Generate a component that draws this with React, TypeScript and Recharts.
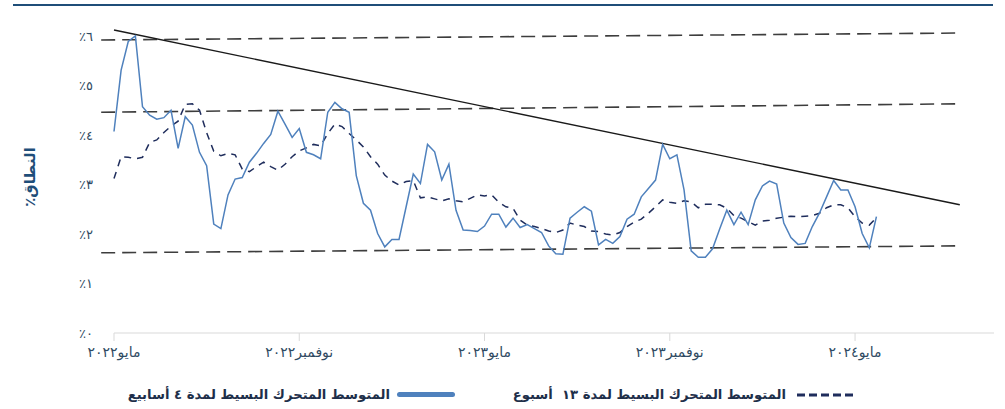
import React from 'react';
import { LineChart, Line, XAxis, YAxis, ReferenceLine } from 'recharts';

// 4-week simple moving average (weekly, % range)
const sma4 = [
  4.07, 5.31, 5.89, 6.0, 4.57, 4.4, 4.32, 4.35, 4.5, 3.73,
  4.37, 4.2, 3.65, 3.38, 2.2, 2.11, 2.79, 3.11, 3.14, 3.45,
  3.63, 3.83, 4.01, 4.48, 4.22, 3.95, 4.13, 3.65, 3.6, 3.52,
  4.46, 4.66, 4.53, 4.46, 3.18, 2.62, 2.48, 2.01, 1.74, 1.89,
  1.89, 2.55, 3.21, 3.02, 3.81, 3.66, 3.09, 3.41, 2.48, 2.08,
  2.07, 2.05, 2.16, 2.4, 2.4, 2.14, 2.32, 2.13, 2.19, 2.11,
  2.03, 1.76, 1.6, 1.59, 2.32, 2.44, 2.55, 2.46, 1.78, 1.89,
  1.81, 1.95, 2.3, 2.4, 2.75, 2.92, 3.09, 3.81, 3.52, 3.6,
  2.89, 1.66, 1.53, 1.53, 1.7, 2.1, 2.48, 2.19, 2.44, 2.19,
  2.69, 2.97, 3.07, 3.01, 2.22, 1.93, 1.79, 1.81, 2.15, 2.42,
  2.75, 3.08, 2.89, 2.89, 2.55, 2.01, 1.72, 2.35,
];

// 13-week simple moving average
const sma13 = [
  3.12, 3.56, 3.55, 3.52, 3.55, 3.85, 3.9, 4.05, 4.18, 4.28,
  4.62, 4.63, 4.5, 4.05, 3.67, 3.58, 3.63, 3.6, 3.31, 3.26,
  3.36, 3.45, 3.36, 3.29, 3.41, 3.56, 3.68, 3.74, 3.81, 3.78,
  4.03, 4.22, 4.17, 4.03, 3.9, 3.76, 3.56, 3.41, 3.19, 3.07,
  2.99, 3.06, 3.08, 2.73, 2.75, 2.71, 2.67, 2.71, 2.67, 2.65,
  2.72, 2.79, 2.77, 2.79, 2.64, 2.55, 2.52, 2.28, 2.18, 2.15,
  2.11, 2.06, 2.03, 2.08, 2.22, 2.18, 2.15, 2.06, 2.05, 2.0,
  1.98, 2.03, 2.15, 2.24, 2.3, 2.42, 2.55, 2.69, 2.64, 2.62,
  2.67, 2.65, 2.53, 2.6, 2.6, 2.59, 2.52, 2.37, 2.32, 2.25,
  2.18, 2.26, 2.28, 2.32, 2.34, 2.36, 2.35, 2.36, 2.37, 2.42,
  2.53, 2.59, 2.59, 2.53, 2.35, 2.22, 2.18, 2.33,
];

const tickWeeks = [0, 26, 52, 78, 104];
const tickLabels = ['مايو٢٠٢٢', 'نوفمبر٢٠٢٢', 'مايو٢٠٢٣', 'نوفمبر٢٠٢٣', 'مايو٢٠٢٤'];
const yTicks = [0, 1, 2, 3, 4, 5, 6];
const arabicDigits = ['٠', '١', '٢', '٣', '٤', '٥', '٦', '٧', '٨', '٩'];

// channel / trend lines: [startWeek, startValue, endWeek, endValue]
const channelTop = [-1.8, 5.92, 118.7, 6.06];
const channelMid = [-1.8, 4.46, 118.7, 4.63];
const channelLow = [-1.8, 1.62, 118.7, 1.76];
const trendLine = [0, 6.12, 118.7, 2.59];

const data = sma4.map((v, i) => ({ week: i, sma4: v, sma13: sma13[i] }));

const FONT = '"DejaVu Sans", sans-serif';
const BLUE = '#4f81bd';
const NAVY = '#1f2d5c';

const seg = (l: number[]) => [
  { x: l[0], y: l[1] },
  { x: l[2], y: l[3] },
];

export default function App() {
  return (
    <div style={{ position: 'absolute', left: 0, top: 0, width: 1005, height: 409, background: '#fff', fontFamily: FONT }}>
      <div style={{ position: 'absolute', left: 13, top: 4, width: 980, height: 2, background: '#1f4e79' }} />
      <LineChart width={1005} height={370} data={data} margin={{ top: 36, right: 11, left: 0, bottom: 7 }}>
        <XAxis
          dataKey="week"
          type="number"
          domain={[0, 123.5]}
          ticks={tickWeeks}
          interval={0}
          tickFormatter={(v) => tickLabels[tickWeeks.indexOf(v)]}
          stroke="#d9d9d9"
          tickSize={8}
          tickMargin={6}
          tick={{ fill: '#2f4a62', fontSize: 14, fontFamily: FONT }}
        />
        <YAxis
          domain={[0, 6]}
          ticks={yTicks}
          axisLine={false}
          tickLine={false}
          tickSize={0}
          tickMargin={21}
          width={114}
          tickFormatter={(v) => '٪' + arabicDigits[v]}
          tick={{ fill: '#2f4a62', fontSize: 13, fontFamily: FONT }}
        />
        {[channelTop, channelMid, channelLow].map((l, i) => (
          <ReferenceLine key={i} segment={seg(l)} ifOverflow="visible" stroke="#3d3d3d" strokeWidth={1.6} strokeDasharray="14 7" />
        ))}
        <ReferenceLine segment={seg(trendLine)} ifOverflow="visible" stroke="#1a1a1a" strokeWidth={1.4} />
        <Line type="linear" dataKey="sma13" stroke={NAVY} strokeWidth={1.5} strokeDasharray="7 6" dot={false} isAnimationActive={false} />
        <Line type="linear" dataKey="sma4" stroke={BLUE} strokeWidth={1.5} dot={false} isAnimationActive={false} />
      </LineChart>

      <div
        style={{
          position: 'absolute', left: 30, top: 177, transform: 'translate(-50%, -50%) rotate(-90deg)',
          direction: 'rtl', whiteSpace: 'nowrap', color: '#1f4e79', fontWeight: 'bold', fontSize: 15,
        }}
      >
        النطاق٪
      </div>

      <div style={{ position: 'absolute', right: 1005 - 455, top: 387, display: 'flex', alignItems: 'center', direction: 'rtl', gap: 7 }}>
        <div style={{ width: 58, height: 5, borderRadius: 3, background: BLUE }} />
        <span style={{ fontWeight: 'bold', fontSize: 13.2, color: '#1e2f4a', whiteSpace: 'pre' }}>المتوسط المتحرك البسيط لمدة ٤ أسابيع</span>
      </div>
      <div style={{ position: 'absolute', right: 1005 - 853, top: 387, display: 'flex', alignItems: 'center', direction: 'rtl', gap: 11 }}>
        <svg width={56} height={4}>
          <line x1={0} y1={2} x2={56} y2={2} stroke={NAVY} strokeWidth={3} strokeDasharray="8 4" />
        </svg>
        <span style={{ fontWeight: 'bold', fontSize: 13.2, color: '#1e2f4a', whiteSpace: 'pre' }}>المتوسط المتحرك البسيط لمدة ١٣  أسبوع</span>
      </div>
    </div>
  );
}
